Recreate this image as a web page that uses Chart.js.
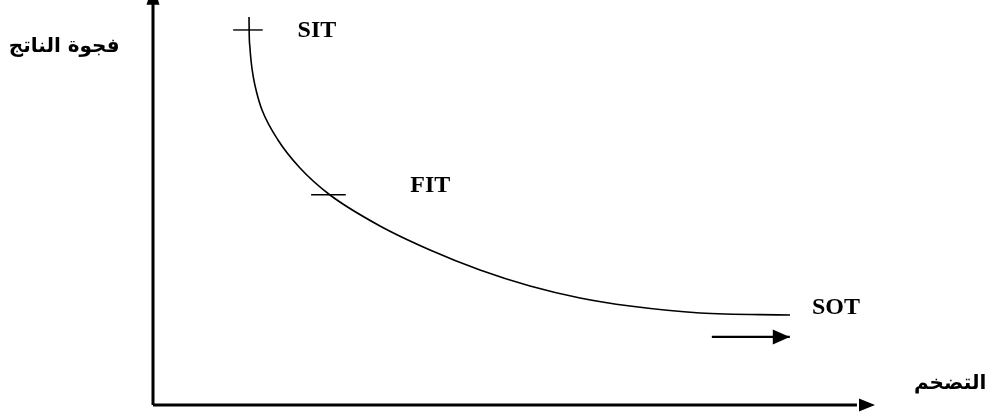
<!DOCTYPE html>
<html>
	<head>
		<meta charset="utf-8">
		<title>SIT / FIT / SOT</title>
		<script src="https://cdn.jsdelivr.net/npm/chart.js"></script>
		<style>
			body { margin: 0; background: #fff; }
			canvas { display: block; }
		</style>
	</head>
	<body>
		<canvas id="curve" width="986" height="415"></canvas>
		<script type="text/javascript">
			// curve (x = inflation, y = output gap), units 0..100
			let curveX = [13.30, 13.32, 13.42, 13.60, 13.89, 14.34, 15.10, 17.31, 20.36, 24.52, 31.44, 38.37, 45.29, 52.22, 59.14, 66.07, 75.76, 88.23]
			let curveY = [95.80, 92.10, 88.40, 84.69, 80.99, 77.28, 72.84, 65.43, 58.52, 51.85, 44.20, 38.27, 33.33, 29.38, 26.42, 24.44, 22.72, 22.22]
			// small tick marks and the arrow under SOT
			let sitTickX = [11.1, 15.2], sitTickY = [92.6, 92.6]
			let fitTickX = [21.9, 26.7], fitTickY = [51.9, 51.9]
			let sotArrowX = [77.4, 88.2], sotArrowY = [16.8, 16.8]
			// text labels
			let labelText = ['SIT', 'FIT', 'SOT', 'فجوة الناتج', 'التضخم']
			let labelX = [22.7, 38.4, 94.6, -12.3, 110.4]
			let labelY = [92.3, 54.1, 24.0, 88.4, 5.2]

			function pts(xs, ys) {
				return xs.map((x, i) => ({ x: x, y: ys[i] }))
			}
			function arrow(ctx, tx, ty, dx, dy, len, half) {
				// tip at (tx,ty), pointing along (dx,dy)
				let bx = tx - dx * len, by = ty - dy * len
				ctx.beginPath()
				ctx.moveTo(tx, ty)
				ctx.lineTo(bx - dy * half, by + dx * half)
				ctx.lineTo(bx + dy * half, by - dx * half)
				ctx.closePath()
				ctx.fill()
			}

			let extras = {
				id: 'extras',
				afterDatasetsDraw(chart) {
					let ctx = chart.ctx, xs = chart.scales.x, ys = chart.scales.y
					ctx.save()
					ctx.fillStyle = '#000'
					// axis arrowheads
					arrow(ctx, xs.getPixelForValue(0), ys.getPixelForValue(104), 0, -1, 21, 6.5)
					arrow(ctx, xs.getPixelForValue(100), ys.getPixelForValue(0), 1, 0, 16, 6.5)
					// arrowhead on the SOT arrow
					arrow(ctx, xs.getPixelForValue(sotArrowX[1]), ys.getPixelForValue(sotArrowY[1]), 1, 0, 17, 7.5)
					ctx.textAlign = 'center'
					ctx.textBaseline = 'middle'
					labelText.forEach((t, i) => {
						ctx.font = i < 3 ? 'bold 24px "Liberation Serif", "Times New Roman", serif' : 'bold 20px "DejaVu Sans", sans-serif'
						ctx.fillText(t, xs.getPixelForValue(labelX[i]), ys.getPixelForValue(labelY[i]))
					})
					ctx.restore()
				}
			}

			let line = (data, width) => ({ data: data, showLine: true, borderColor: '#000', borderWidth: width, pointRadius: 0, fill: false, clip: false })

			new Chart(document.getElementById('curve'), {
				type: 'scatter',
				data: {
					datasets: [
						Object.assign(line(pts(curveX, curveY), 1.6), { cubicInterpolationMode: 'monotone' }),
						line(pts(sitTickX, sitTickY), 1.4),
						line(pts(fitTickX, fitTickY), 1.4),
						line(pts(sotArrowX, sotArrowY), 2.2),
						line(pts([0, 97.5], [0, 0]), 3),
						line(pts([0, 0], [0, 99]), 3)
					]
				},
				options: {
					responsive: false,
					animation: false,
					layout: { padding: { left: 153, right: 111, top: 0, bottom: 10 } },
					scales: {
						x: { type: 'linear', min: 0, max: 100, display: false },
						y: { type: 'linear', min: 0, max: 100, display: false }
					},
					plugins: { legend: { display: false }, tooltip: { enabled: false } }
				},
				plugins: [extras]
			})
		</script>
	</body>
</html>
